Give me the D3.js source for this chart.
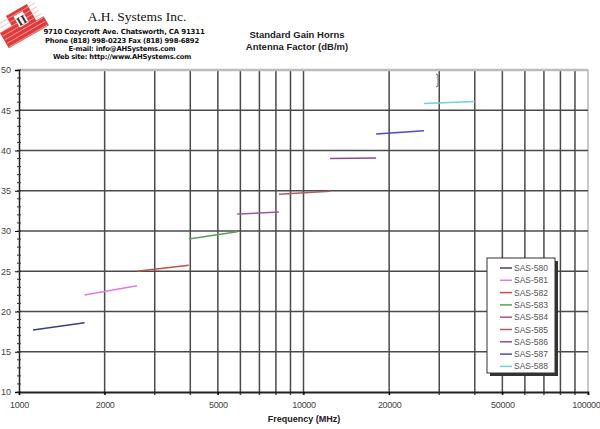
<!DOCTYPE html>
<html><head><meta charset="utf-8">
<script src="https://cdn.jsdelivr.net/npm/d3@7"></script>
<style>body{margin:0;background:#fff}svg{display:block}</style>
</head><body>
<svg id="c" width="600" height="429"></svg>
<script>
// ---- data (frequency in MHz, antenna factor in dB/m) ----
const seriesNames = ["SAS-580","SAS-581","SAS-582","SAS-583","SAS-584","SAS-585","SAS-586","SAS-587","SAS-588"];
const seriesColors = ["#3c3c8c","#e27ae2","#c0504d","#5aa05a","#9a5a9a","#a86060","#8a4a9a","#4a4ad0","#6ad2e0"];
const sas580 = [[1120,17.7],[1700,18.6]];
const sas581 = [[1700,22.05],[2600,23.2]];
const sas582 = [[2600,25.0],[3950,25.75]];
const sas583 = [[3950,29.0],[5850,29.9]];
const sas584 = [[5850,32.1],[8200,32.35]];
const sas585 = [[8200,34.55],[12400,34.95]];
const sas586 = [[12400,39.0],[18000,39.07]];
const sas587 = [[18000,42.05],[26500,42.45]];
const sas588 = [[26500,45.85],[40000,46.1]];
const seriesData = [sas580,sas581,sas582,sas583,sas584,sas585,sas586,sas587,sas588];
const xTickLabels = [1000,2000,5000,10000,20000,50000,100000];
const yTickLabels = [10,15,20,25,30,35,40,45,50];

const svg = d3.select("#c");
const L = 19, R = 588, T = 70, B = 392;
const x = d3.scaleLog().domain([1000,100000]).range([L,R]);
const y = d3.scaleLinear().domain([10,50]).range([B,T]);

// ---- grid ----
const vGrid = [];
for (let d = 1000; d < 100000; d *= 10) for (let k = 2; k <= 10; k++) vGrid.push(d*k);
svg.append("g").selectAll("line").data(vGrid.filter(v=>v<100000)).join("line")
  .attr("x1",d=>x(d)).attr("x2",d=>x(d)).attr("y1",T).attr("y2",B+3)
  .attr("stroke","#4a4a4a").attr("stroke-width",1.5);
svg.append("line").attr("x1",x(100000)).attr("x2",x(100000)).attr("y1",T).attr("y2",B+3)
  .attr("stroke","#c8c8c8").attr("stroke-width",2);
svg.append("g").selectAll("line").data(yTickLabels.filter(v=>v>10 && v<50)).join("line")
  .attr("x1",L).attr("x2",R).attr("y1",d=>y(d)).attr("y2",d=>y(d))
  .attr("stroke","#4a4a4a").attr("stroke-width",1.5);
svg.append("line").attr("x1",L).attr("x2",R).attr("y1",y(50)).attr("y2",y(50))
  .attr("stroke","#bcbcbc").attr("stroke-width",2.5);

// ---- axes ----
const yAxis = d3.axisLeft(y).tickValues(yTickLabels).tickSize(4).tickPadding(4).tickFormat(d3.format("d"));
const gy = svg.append("g").attr("transform",`translate(${L},0)`).call(yAxis);
gy.select(".domain").attr("stroke","#222").attr("stroke-width",1.5);
gy.selectAll("text").attr("font-family","Arial, Liberation Sans, sans-serif").attr("font-size",9).attr("fill","#444");
// minor y ticks
svg.append("g").selectAll("line").data(d3.range(10,51,1)).join("line")
  .attr("x1",L-2).attr("x2",L+2).attr("y1",d=>y(d)).attr("y2",d=>y(d)).attr("stroke","#333").attr("stroke-width",1);

const xAxis = d3.axisBottom(x).tickValues(xTickLabels).tickSize(3).tickPadding(7).tickFormat(d3.format("d"));
const gx = svg.append("g").attr("transform",`translate(0,${B})`).call(xAxis);
gx.select(".domain").attr("stroke","#222").attr("stroke-width",1.8);
gx.selectAll("text").attr("font-family","Arial, Liberation Sans, sans-serif").attr("font-size",9).attr("fill","#444").attr("letter-spacing","-0.3");
gx.selectAll("text").filter(d=>d===100000).attr("text-anchor","end").attr("dx",12);
svg.append("text").attr("x",304).attr("y",422).attr("text-anchor","middle")
  .attr("font-family","Liberation Sans Narrow, Arial, sans-serif").attr("font-weight","bold").attr("font-size",9).attr("fill","#222")
  .text("Frequency (MHz)");

// ---- series ----
const line = d3.line().x(d=>x(d[0])).y(d=>y(d[1]));
svg.append("g").selectAll("path").data(seriesData).join("path")
  .attr("d",line).attr("fill","none").attr("stroke",(d,i)=>seriesColors[i]).attr("stroke-width",1.5);

// small artifact mark near top
svg.append("path").attr("d","M436,74 L438,75 L438,86 L436,87").attr("fill","none").attr("stroke","#666").attr("stroke-width",1);

// ---- legend ----
const lg = svg.append("g");
lg.append("rect").attr("x",490).attr("y",261).attr("width",68).attr("height",115).attr("fill","#333");
lg.append("rect").attr("x",487).attr("y",258).attr("width",68).attr("height",115).attr("fill","#fff").attr("stroke","#333").attr("stroke-width",1);
const rows = lg.selectAll("g.r").data(seriesNames).join("g").attr("class","r")
  .attr("transform",(d,i)=>`translate(0,${268+i*12.3})`);
rows.append("line").attr("x1",500).attr("x2",512).attr("y1",0).attr("y2",0)
  .attr("stroke",(d,i)=>seriesColors[i]).attr("stroke-width",1.5);
rows.append("text").attr("x",514).attr("y",3).attr("font-family","Arial, Liberation Sans, sans-serif")
  .attr("font-size",8.5).attr("fill","#555").text(d=>d);

// ---- titles ----
svg.append("text").attr("x",297).attr("y",38).attr("text-anchor","middle")
  .attr("font-family","Liberation Sans Narrow, Arial, sans-serif").attr("font-weight","bold").attr("font-size",9.5).attr("fill","#222")
  .text("Standard Gain Horns");
svg.append("text").attr("x",297).attr("y",50).attr("text-anchor","middle")
  .attr("font-family","Liberation Sans Narrow, Arial, sans-serif").attr("font-weight","bold").attr("font-size",9.5).attr("fill","#222")
  .text("Antenna Factor (dB/m)");

// ---- company header ----
svg.append("text").attr("x",137).attr("y",21).attr("text-anchor","middle")
  .attr("font-family","Liberation Serif, Times New Roman, serif").attr("font-size",13.5).attr("fill","#111")
  .text("A.H. Systems Inc.");
const hdr = ["9710 Cozycroft Ave. Chatsworth, CA 91311","Phone (818) 998-0223 Fax (818) 998-6892","E-mail: info@AHSystems.com","Web site: http://www.AHSystems.com"];
svg.append("g").selectAll("text").data(hdr).join("text")
  .attr("x",(d,i)=>i===0?124:122).attr("y",(d,i)=>[34,43,51,59][i]).attr("text-anchor","middle")
  .attr("font-family","DejaVu Sans, Verdana, sans-serif").attr("font-weight","bold").attr("font-size",(d,i)=>i===0?7:6.8)
  .attr("fill","#111").attr("letter-spacing","-0.2").text(d=>d);

// logo
const logo = svg.append("g").attr("transform","translate(22,25) rotate(-30) scale(1.05)");
logo.append("path").attr("d","M-22,-4 L-9,-4 L-9,-15 L14,-15 L14,3 L22,3 L22,13 L-22,13 Z").attr("fill","#e03a3a");
for (let k=0;k<7;k++) logo.append("line").attr("x1",-21).attr("x2",21).attr("y1",-12+k*4).attr("y2",-12+k*4)
  .attr("stroke","#f6b0b0").attr("stroke-width",0.7);
logo.append("rect").attr("x",-3).attr("y",-11).attr("width",10).attr("height",12).attr("fill","#fff");
logo.append("text").attr("x",2).attr("y",0).attr("text-anchor","middle").attr("font-family","Liberation Serif, serif")
  .attr("font-weight","bold").attr("font-size",12).attr("fill","#333").text("II");
</script>
</body></html>
